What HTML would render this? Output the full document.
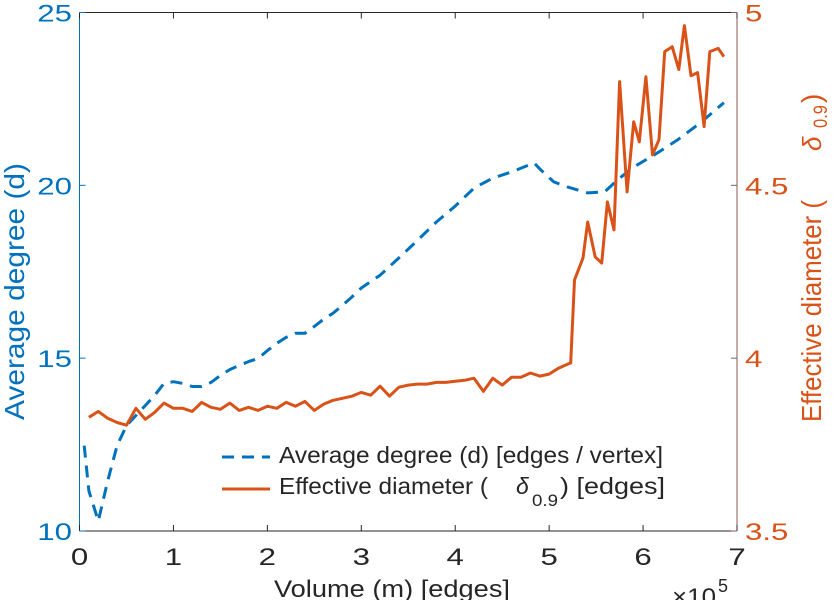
<!DOCTYPE html>
<html><head><meta charset="utf-8"><style>
html,body{margin:0;padding:0;background:#fff;width:838px;height:600px;overflow:hidden}
svg{display:block;font-family:"Liberation Sans",sans-serif}
</style></head><body>
<svg id="chart" width="838" height="600" viewBox="0 0 838 600" xmlns="http://www.w3.org/2000/svg">
<g id="axes"></g>
<g id="series"></g>
<g id="legend">
  <line x1="222" y1="457" x2="270" y2="457" stroke="#0072BD" stroke-width="3" stroke-dasharray="12,8"/>
  <text x="279" y="463" font-size="23" fill="#262626" textLength="384" lengthAdjust="spacingAndGlyphs">Average degree (d) [edges / vertex]</text>
  <line x1="222" y1="489" x2="270" y2="489" stroke="#D95319" stroke-width="3"/>
  <text x="279" y="494" font-size="23" fill="#262626" textLength="209" lengthAdjust="spacingAndGlyphs">Effective diameter (</text>
  <text x="516" y="494" font-size="23" font-style="italic" fill="#262626">δ</text>
  <text x="532" y="506" font-size="17" fill="#262626" textLength="26" lengthAdjust="spacingAndGlyphs">0.9</text>
  <text x="560" y="494" font-size="23" fill="#262626" textLength="105" lengthAdjust="spacingAndGlyphs">) [edges]</text>
</g>
<text x="274" y="597" font-size="24" fill="#262626" textLength="236" lengthAdjust="spacingAndGlyphs">Volume (m) [edges]</text>
<text x="672" y="605" font-size="24" fill="#262626" textLength="44" lengthAdjust="spacingAndGlyphs">×10</text>
<text x="718" y="592" font-size="18" fill="#262626">5</text>
<text transform="translate(24,420) rotate(-90)" font-size="28" fill="#0072BD" textLength="257" lengthAdjust="spacingAndGlyphs">Average degree (d)</text>
<g fill="#D95319">
  <text transform="translate(821,422) rotate(-90)" font-size="28" textLength="222" lengthAdjust="spacingAndGlyphs">Effective diameter (</text>
  <text transform="translate(821,151) rotate(-90)" font-size="26" font-style="italic">δ</text>
  <text transform="translate(827,128) rotate(-90)" font-size="19" textLength="23" lengthAdjust="spacingAndGlyphs">0.9</text>
  <text transform="translate(821,103) rotate(-90)" font-size="28">)</text>
</g>
</svg>
<script>
const xTicks = [0,1,2,3,4,5,6,7];
const leftTicks = [10,15,20,25];
const rightTicks = [3.5,4,4.5,5];
const rightTickLabels = ["3.5","4","4.5","5"];

const degreeX = [0.05,0.1,0.2,0.3,0.4,0.5,0.6,0.7,0.8,0.9,1.0,1.1,1.2,1.3,1.4,1.5,1.6,1.7,1.8,1.9,2.0,2.1,2.2,2.3,2.4,2.5,2.6,2.7,2.8,2.9,3.0,3.2,3.4,3.6,3.8,4.0,4.2,4.4,4.6,4.84,4.91,5.05,5.2,5.41,5.59,5.73,5.9,6.12,6.37,6.61,6.86];
const degreeY = [12.47,11.16,10.29,11.45,12.47,13.05,13.34,13.63,13.92,14.27,14.32,14.27,14.18,14.18,14.30,14.50,14.67,14.79,14.90,14.99,15.22,15.43,15.60,15.72,15.72,15.92,16.13,16.30,16.53,16.77,17.03,17.40,17.90,18.41,18.94,19.40,19.92,20.21,20.39,20.65,20.45,20.10,19.95,19.78,19.81,20.16,20.53,20.88,21.32,21.81,22.39];

const diamX = [0.1,0.2,0.3,0.4,0.5,0.6,0.7,0.8,0.9,1.0,1.1,1.2,1.3,1.4,1.5,1.6,1.7,1.8,1.9,2.0,2.1,2.2,2.3,2.4,2.5,2.6,2.7,2.8,2.9,3.0,3.1,3.2,3.3,3.4,3.5,3.6,3.7,3.8,3.9,4.0,4.1,4.2,4.3,4.4,4.5,4.6,4.7,4.8,4.9,5.0,5.1,5.2,5.23,5.27,5.36,5.41,5.49,5.56,5.62,5.69,5.75,5.83,5.90,5.96,6.03,6.10,6.17,6.23,6.31,6.38,6.44,6.51,6.58,6.65,6.71,6.80,6.86];
const diamY = [3.829,3.846,3.826,3.814,3.806,3.855,3.823,3.843,3.870,3.855,3.855,3.846,3.872,3.858,3.852,3.870,3.849,3.858,3.849,3.861,3.855,3.872,3.861,3.875,3.849,3.867,3.878,3.884,3.890,3.901,3.893,3.919,3.890,3.916,3.922,3.925,3.925,3.930,3.930,3.933,3.936,3.942,3.904,3.942,3.922,3.945,3.945,3.957,3.948,3.954,3.971,3.983,3.986,4.226,4.29,4.394,4.293,4.275,4.452,4.371,4.80,4.481,4.684,4.626,4.814,4.588,4.632,4.887,4.901,4.835,4.962,4.817,4.826,4.670,4.887,4.896,4.872];

const L=79.5, R=737, T=12.5, B=531;
const sx = v => L + (v-0)/(7-0)*(R-L);
const syL = v => B - (v-10)/(25-10)*(B-T);
const syR = v => B - (v-3.5)/(5-3.5)*(B-T);
const NS="http://www.w3.org/2000/svg";
const axes=document.getElementById('axes'), series=document.getElementById('series');
function mk(tag, attrs, parent){const e=document.createElementNS(NS,tag);for(const k in attrs)e.setAttribute(k,attrs[k]);parent.appendChild(e);return e;}

let e;
e=mk('line',{x1:L,y1:T,x2:R,y2:T,stroke:'#262626','stroke-width':1},axes);
 
e=mk('line',{x1:L,y1:B,x2:R,y2:B,stroke:'#262626','stroke-width':1},axes);
 
e=mk('line',{x1:L,y1:T,x2:L,y2:B,stroke:'#0072BD','stroke-width':1},axes);
 
e=mk('line',{x1:R,y1:T,x2:R,y2:B,stroke:'#8c5a50','stroke-width':1},axes);
 

xTicks.forEach(t=>{
  const x=sx(t);
  let a=mk('line',{x1:x,y1:B,x2:x,y2:B-6,stroke:'#262626'},axes);
   
  a=mk('line',{x1:x,y1:T,x2:x,y2:T+6,stroke:'#262626'},axes);
   
  const tx=mk('text',{transform:'translate('+x+',565) scale(1.3,1)','font-size':24,fill:'#262626','text-anchor':'middle'},axes);
  tx.textContent=t;
   
});
leftTicks.forEach(t=>{
  const y=syL(t);
  let a=mk('line',{x1:L,y1:y,x2:L+6,y2:y,stroke:'#0072BD'},axes);
   
  const tx=mk('text',{transform:'translate(72,'+(y+9)+') scale(1.3,1)','font-size':24,fill:'#0072BD','text-anchor':'end'},axes);
  tx.textContent=t;
   
});
rightTicks.forEach((t,i)=>{
  const y=syR(t);
  let a=mk('line',{x1:R,y1:y,x2:R-6,y2:y,stroke:'#8c5a50'},axes);
   
  const tx=mk('text',{transform:'translate('+(R+8)+','+(y+9)+') scale(1.3,1)','font-size':24,fill:'#D95319','text-anchor':'start'},axes);
  tx.textContent=rightTickLabels[i];
   
});

const dPts=degreeX.map((x,i)=>sx(x).toFixed(1)+','+syL(degreeY[i]).toFixed(1)).join(' ');
const p1=mk('polyline',{points:dPts,fill:'none',stroke:'#0072BD','stroke-width':3,'stroke-dasharray':'12,8','stroke-linejoin':'round'},series);
 
const ePts=diamX.map((x,i)=>sx(x).toFixed(1)+','+syR(diamY[i]).toFixed(1)).join(' ');
const p2=mk('polyline',{points:ePts,fill:'none',stroke:'#D95319','stroke-width':3,'stroke-linejoin':'round'},series);
 
</script>
</body></html>
